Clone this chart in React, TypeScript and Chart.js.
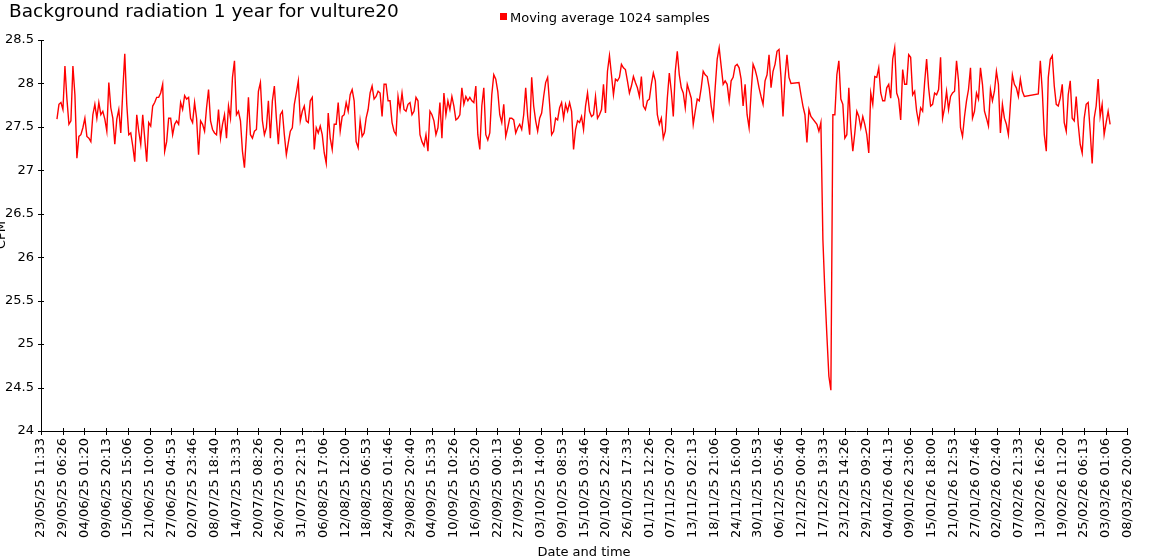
import React, { useEffect, useRef } from "react";
import { Chart, registerables } from "chart.js";

Chart.register(...registerables);

const TITLE = "Background radiation 1 year for vulture20";
const SERIES_LABEL = "Moving average 1024 samples";
const X_TITLE = "Date and time";
const Y_TITLE = "CPM";
const SERIES_COLOR = "#ff0000";
const FONT = '"DejaVu Sans", Verdana, sans-serif';

// Axis tick labels (evenly spaced over the year)
const xTickLabels = [
  "23/05/25 11:33", "29/05/25 06:26", "04/06/25 01:20", "09/06/25 20:13", "15/06/25 15:06",
  "21/06/25 10:00", "27/06/25 04:53", "02/07/25 23:46", "08/07/25 18:40", "14/07/25 13:33",
  "20/07/25 08:26", "26/07/25 03:20", "31/07/25 22:13", "06/08/25 17:06", "12/08/25 12:00",
  "18/08/25 06:53", "24/08/25 01:46", "29/08/25 20:40", "04/09/25 15:33", "10/09/25 10:26",
  "16/09/25 05:20", "22/09/25 00:13", "27/09/25 19:06", "03/10/25 14:00", "09/10/25 08:53",
  "15/10/25 03:46", "20/10/25 22:40", "26/10/25 17:33", "01/11/25 12:26", "07/11/25 07:20",
  "13/11/25 02:13", "18/11/25 21:06", "24/11/25 16:00", "30/11/25 10:53", "06/12/25 05:46",
  "12/12/25 00:40", "17/12/25 19:33", "23/12/25 14:26", "29/12/25 09:20", "04/01/26 04:13",
  "09/01/26 23:06", "15/01/26 18:00", "21/01/26 12:53", "27/01/26 07:46", "02/02/26 02:40",
  "07/02/26 21:33", "13/02/26 16:26", "19/02/26 11:20", "25/02/26 06:13", "03/03/26 01:06",
  "08/03/26 20:00",
];

// Time axis in hours since 23/05/25 11:33 (to 08/03/26 20:00)
const AXIS_SPAN_H = 6944.45;
// Samples: first at 27/05/25 17:33, one every 12.75 hours
const SAMPLE_START_H = 102;
const SAMPLE_STEP_H = 12.75;

const Y_MIN = 24;
const Y_MAX = 28.5;
const Y_STEP = 0.5;

// Moving average CPM values (null = no data, line spans the gap)
const cpmMayToAug = [
  27.59, 27.76, 27.78, 27.70, 28.20, 27.82, 27.53, 27.57, 28.20, 27.87,
  27.14, 27.39, 27.41, 27.49, 27.60, 27.39, 27.37, 27.33, 27.64, 27.76,
  27.60, 27.78, 27.64, 27.68, 27.59, 27.45, 28.01, 27.72, 27.60, 27.30,
  27.59, 27.70, 27.43, 27.91, 28.34, 27.76, 27.41, 27.43, 27.28, 27.10,
  27.64, 27.45, 27.30, 27.64, 27.37, 27.10, 27.55, 27.51, 27.74, 27.78,
  27.84, 27.84, 27.89, 27.99, 27.22, 27.33, 27.60, 27.60, 27.41, 27.53,
  27.57, 27.53, 27.78, 27.70, 27.86, 27.82, 27.84, 27.60, 27.55, 27.78,
  27.60, 27.18, 27.57, 27.53, 27.45, 27.72, 27.93, 27.57, 27.47, 27.43,
  27.41, 27.70, 27.37, 27.53, 27.64, 27.37, 27.74, 27.60, 28.07, 28.26,
  27.64, 27.68, 27.57, 27.22, 27.03, 27.41, 27.84, 27.41, 27.37, 27.45,
  27.47, 27.91, 28.01, 27.57, 27.41, 27.49, 27.80, 27.37, 27.80, 27.97,
  27.60, 27.30, 27.64, 27.68, 27.41, 27.18, 27.32, 27.45, 27.49, 27.76,
  27.89, 28.03, 27.57, 27.68, 27.74, 27.57, 27.55, 27.80, 27.84,
];

const cpmAugToOct = [
  27.24, 27.49, 27.43, 27.51, 27.41, 27.20, 27.08, 27.66, 27.37, 27.24,
  27.53, 27.53, 27.78, 27.45, 27.62, 27.64, 27.78, 27.68, 27.87, 27.93,
  27.80, 27.33, 27.26, 27.57, 27.39, 27.43, 27.60, 27.70, 27.89, 27.97,
  27.82, 27.85, 27.91, 27.89, 27.62, 27.99, 27.99, 27.80, 27.80, 27.55,
  27.45, 27.41, 27.85, 27.70, 27.89, 27.70, 27.68, 27.76, 27.78, 27.64,
  27.68, 27.84, 27.80, 27.41, 27.33, 27.28, 27.41, 27.22, 27.68, 27.64,
  27.57, 27.41, 27.49, 27.78, 27.37, 27.89, 27.64, 27.80, 27.70, 27.85,
  27.74, 27.58, 27.60, 27.64, 27.95, 27.76, 27.85, 27.80, 27.84, 27.80,
  27.78, 27.97, 27.41, 27.24, 27.74, 27.95, 27.41, 27.35, 27.43, 27.87,
  28.10, 28.05, 27.91, 27.64, 27.55, 27.76, 27.39, 27.49, 27.60, 27.60,
  27.58, 27.43, 27.49, 27.53, 27.47, 27.64, 27.95, 27.62, 27.41, 28.07,
  27.74, 27.57, 27.45, 27.60, 27.66, 27.85, 28.01, 28.07, 27.76, 27.41,
  27.45, 27.60, 27.58, 27.72, 27.78, 27.60, 27.76, 27.68, 27.78, 27.68,
  27.24, 27.47, 27.57, 27.55, 27.62, 27.47, 27.74, 27.89,
];

const cpmOctToDec = [
  27.68, 27.62, 27.64, 27.85, 27.60, 27.64, 27.70, 27.99, 27.66, 28.14,
  28.32, 28.10, 27.87, 28.05, 28.03, 28.07, 28.22, 28.18, 28.16, 28.03,
  27.89, 27.97, 28.08, 28.01, 27.95, 27.85, 28.08, 27.74, 27.70, 27.80,
  27.82, 27.99, 28.12, 28.03, 27.64, 27.53, 27.60, 27.37, 27.45, 27.83,
  28.12, 27.91, 27.62, 28.14, 28.37, 28.10, 27.95, 27.89, 27.72, 27.99,
  27.91, 27.83, 27.53, 27.68, 27.82, 27.80, 27.95, 28.14, 28.10, 28.08,
  27.95, 27.74, 27.60, 27.95, 28.28, 28.41, 28.20, 27.99, 28.03, 27.99,
  27.80, 28.03, 28.07, 28.20, 28.22, 28.18, 28.05, 27.74, 27.99, 27.64,
  27.49, 27.89, 28.22, 28.16, 28.07, 27.95, 27.85, 27.76, 28.03, 28.10,
  28.33, 27.95, 28.14, 28.22, 28.37, 28.39, 28.07, 27.62, 28.07, 28.33,
  28.07, 28.00, null, null, null, 28.01, 27.87, 27.74, 27.64, 27.32,
  27.70, 27.62, null, null, 27.53, 27.45, 27.55, 26.20, 25.60, 25.10,
  24.63, 24.47, 27.64, 27.64, 28.10, 28.26, 27.82, 27.76, 27.37, 27.41,
  27.95, 27.49, 27.22, 27.43, 27.68, 27.62, 27.49,
];

const cpmDecToMar = [
  27.62, 27.53, 27.41, 27.20, 27.89, 27.76, 28.08, 28.07, 28.18, 27.89,
  27.80, 27.80, 27.95, 27.99, 27.83, 28.28, 28.41, 27.89, 27.82, 27.58,
  28.16, 27.99, 27.99, 28.33, 28.30, 27.87, 27.91, 27.68, 27.55, 27.72,
  27.68, 28.01, 28.28, 27.95, 27.74, 27.76, 27.89, 27.87, 27.93, 28.30,
  27.60, 27.72, 27.91, 27.70, 27.85, 27.89, 27.91, 28.26, 28.03, 27.49,
  27.39, 27.62, 27.80, 27.93, 28.18, 27.60, 27.68, 27.89, 27.82, 28.18,
  27.99, 27.68, 27.60, 27.51, 27.93, 27.80, 27.91, 28.14, 27.99, 27.43,
  27.76, 27.60, 27.53, 27.41, 27.76, 28.10, 27.99, 27.95, 27.85, 28.05,
  27.91, 27.85, null, null, null, null, null, null, 27.88, 28.26,
  27.91, 27.41, 27.22, 28.07, 28.28, 28.32, 27.97, 27.76, 27.74, 27.83,
  27.99, 27.55, 27.45, 27.87, 28.03, 27.60, 27.57, 27.85, 27.53, 27.30,
  27.20, 27.60, 27.76, 27.78, 27.45, 27.08, 27.60, 27.74, 28.05, 27.62,
  27.76, 27.41, 27.55, 27.68, 27.53,
];

const cpmValues: (number | null)[] = [
  ...cpmMayToAug,
  ...cpmAugToOct,
  ...cpmOctToDec,
  ...cpmDecToMar,
];

const overlayPlugin = {
  id: "overlay",
  afterDraw(chart: any) {
    const ctx: CanvasRenderingContext2D = chart.ctx;
    const { left, bottom } = chart.chartArea;
    ctx.save();
    // Title
    ctx.fillStyle = "#000";
    ctx.textAlign = "left";
    ctx.textBaseline = "alphabetic";
    ctx.font = `18.5px ${FONT}`;
    ctx.fillText(TITLE, 9, 17);
    // Legend
    ctx.fillStyle = SERIES_COLOR;
    ctx.fillRect(500, 13, 7, 7);
    ctx.fillStyle = "#000";
    ctx.font = `13px ${FONT}`;
    ctx.fillText(SERIES_LABEL, 510, 21.5);
    // X axis title
    ctx.textAlign = "center";
    ctx.fillText(X_TITLE, 584, 556);
    // Y axis title (mostly cut off at the left edge)
    ctx.save();
    ctx.translate(5, 235);
    ctx.rotate(-Math.PI / 2);
    ctx.textAlign = "center";
    ctx.fillText(Y_TITLE, 0, 0);
    ctx.restore();
    // Tick marks crossing the axes
    ctx.strokeStyle = "#000";
    ctx.lineWidth = 1;
    ctx.beginPath();
    const ys = chart.scales.y;
    ys.ticks.forEach((t: any) => {
      const y = Math.round(ys.getPixelForValue(t.value)) + 0.5;
      ctx.moveTo(left - 3, y);
      ctx.lineTo(left + 3, y);
    });
    const xs = chart.scales.x;
    xs.ticks.forEach((t: any) => {
      const x = Math.round(xs.getPixelForValue(t.value)) + 0.5;
      ctx.moveTo(x, bottom - 3);
      ctx.lineTo(x, bottom + 4);
    });
    ctx.stroke();
    ctx.restore();
  },
};

export default function App() {
  const canvasRef = useRef<HTMLCanvasElement | null>(null);

  useEffect(() => {
    if (!canvasRef.current) return;
    Chart.defaults.font.family = FONT;
    Chart.defaults.font.size = 13;
    Chart.defaults.color = "#000";
    const points = cpmValues.map((v, k) => ({
      x: SAMPLE_START_H + k * SAMPLE_STEP_H,
      y: v,
    }));
    const chart = new Chart(canvasRef.current, {
      type: "line",
      data: {
        datasets: [
          {
            label: SERIES_LABEL,
            data: points as any,
            borderColor: SERIES_COLOR,
            backgroundColor: SERIES_COLOR,
            borderWidth: 1.4,
            pointRadius: 0,
            spanGaps: true,
            tension: 0,
            fill: false,
          },
        ],
      },
      options: {
        responsive: false,
        animation: false,
        devicePixelRatio: 1,
        layout: { padding: { top: 40, right: 20, left: 0, bottom: 0 } },
        plugins: {
          legend: { display: false },
          title: { display: false },
          tooltip: { enabled: false },
        },
        scales: {
          x: {
            type: "linear",
            min: 0,
            max: AXIS_SPAN_H,
            grid: { display: false, drawTicks: false },
            border: { display: true, color: "#000", width: 1 },
            ticks: {
              autoSkip: false,
              minRotation: 90,
              maxRotation: 90,
              padding: 7,
              color: "#000",
              font: { family: FONT, size: 13 },
              callback: (_v: any, i: number) => xTickLabels[i],
            },
            afterBuildTicks: (s: any) => {
              s.ticks = xTickLabels.map((_, i) => ({
                value: (i * AXIS_SPAN_H) / (xTickLabels.length - 1),
              }));
            },
            afterFit: (s: any) => {
              s.height = 129;
            },
          },
          y: {
            type: "linear",
            min: Y_MIN,
            max: Y_MAX,
            grid: { display: false, drawTicks: false },
            border: { display: true, color: "#000", width: 1 },
            ticks: {
              stepSize: Y_STEP,
              padding: 7,
              color: "#000",
              font: { family: FONT, size: 13 },
              callback: (v: any) => String(Math.round(Number(v) * 10) / 10),
            },
            afterFit: (s: any) => {
              s.width = 41;
            },
          },
        },
      },
      plugins: [overlayPlugin],
    });
    return () => chart.destroy();
  }, []);

  return (
    <div style={{ position: "fixed", left: 0, top: 0, width: 1150, height: 560, background: "#fff" }}>
      <canvas ref={canvasRef} width={1150} height={560} style={{ display: "block" }} />
    </div>
  );
}
